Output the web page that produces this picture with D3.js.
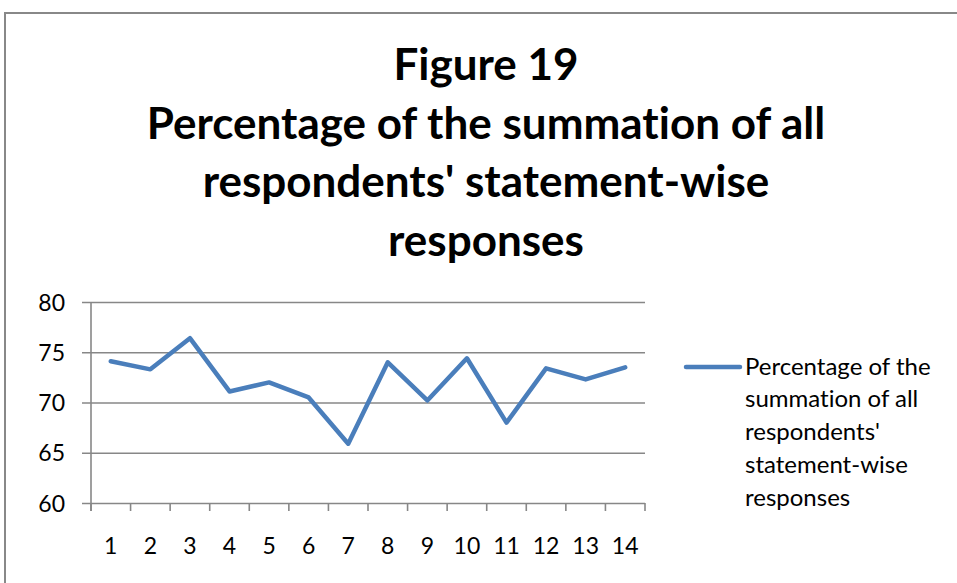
<!DOCTYPE html>
<html>
<head>
<meta charset="utf-8">
<script src="https://cdn.jsdelivr.net/npm/d3@7"></script>
<style>
  html, body { margin: 0; padding: 0; background: #fff; }
  svg { display: block; }
  text { font-family: Lato, "Open Sans", sans-serif; fill: #000; font-variant-ligatures: none; }
</style>
</head>
<body>
<div id="chart"></div>
<script>
// statement numbers on the x axis
const statements = ['1', '2', '3', '4', '5', '6', '7', '8', '9', '10', '11', '12', '13', '14'];
// percentage of the summation of all respondents' responses, per statement
const percentages = [74.1, 73.3, 76.4, 71.1, 72.0, 70.5, 65.9, 74.0, 70.2, 74.4, 68.0, 73.4, 72.3, 73.5];
const yTicks = [60, 65, 70, 75, 80];
const titleLines = ['Figure 19', 'Percentage of the summation of all', "respondents' statement-wise", 'responses'];
const legendLines = ['Percentage of the', 'summation of all', "respondents'", 'statement-wise', 'responses'];

const width = 957, height = 583;
const plot = { left: 91, right: 645, top: 302, bottom: 503 };
const lineColor = '#4a7ebb';
const gridColor = '#878787';

const svg = d3.select('#chart').append('svg')
  .attr('width', width)
  .attr('height', height);

// outer chart frame (runs off the right and bottom edges)
svg.append('rect')
  .attr('x', 5).attr('y', 13)
  .attr('width', 1000).attr('height', 700)
  .attr('fill', '#fff')
  .attr('stroke', '#888')
  .attr('stroke-width', 2);

// title
svg.append('g')
  .selectAll('text')
  .data(titleLines)
  .enter()
  .append('text')
  .attr('x', 486)
  .attr('y', (d, i) => 80 + i * 58.5)
  .attr('text-anchor', 'middle')
  .style('font-weight', 'bold')
  .style('font-size', '44px')
  .text(d => d);

const x = d3.scaleBand()
  .domain(statements)
  .range([plot.left, plot.right])
  .padding(0);

const y = d3.scaleLinear()
  .domain([60, 80])
  .range([plot.bottom, plot.top]);

// horizontal gridlines + left tick marks
const yAxis = d3.axisLeft(y)
  .tickValues(yTicks)
  .tickSize(-(plot.right - plot.left))
  .tickSizeOuter(0);

const gy = svg.append('g')
  .attr('transform', `translate(${plot.left},0)`)
  .call(yAxis);
gy.select('.domain').remove();
gy.selectAll('.tick line')
  .attr('x1', -9)
  .attr('stroke', gridColor)
  .attr('stroke-width', 1.6);
gy.selectAll('.tick text')
  .style('font-size', '23px')
  .attr('x', -26)
  .attr('dy', '0.35em');

// y axis line
svg.append('line')
  .attr('x1', plot.left).attr('x2', plot.left)
  .attr('y1', plot.top).attr('y2', plot.bottom + 8)
  .attr('stroke', gridColor)
  .attr('stroke-width', 1.6);

// category tick marks at band boundaries
const boundaries = statements.map(d => x(d)).concat([plot.right]);
svg.append('g')
  .selectAll('line')
  .data(boundaries)
  .enter()
  .append('line')
  .attr('x1', d => d).attr('x2', d => d)
  .attr('y1', plot.bottom).attr('y2', plot.bottom + 8)
  .attr('stroke', gridColor)
  .attr('stroke-width', 1.6);

// x axis labels
const xAxis = d3.axisBottom(x).tickSize(0).tickPadding(0);
const gx = svg.append('g')
  .attr('transform', `translate(0,${plot.bottom})`)
  .call(xAxis);
gx.select('.domain').remove();
gx.selectAll('.tick text')
  .style('font-size', '23px')
  .attr('y', 43)
  .attr('dy', '0.35em');

// data line
const line = d3.line()
  .x((d, i) => x(statements[i]) + x.bandwidth() / 2)
  .y(d => y(d));

svg.append('path')
  .datum(percentages)
  .attr('d', line)
  .attr('fill', 'none')
  .attr('stroke', lineColor)
  .attr('stroke-width', 4.5)
  .attr('stroke-linejoin', 'round')
  .attr('stroke-linecap', 'round');

// legend
const legend = svg.append('g').attr('transform', 'translate(686,367)');
legend.append('line')
  .attr('x1', 0).attr('x2', 54)
  .attr('y1', 0).attr('y2', 0)
  .attr('stroke', lineColor)
  .attr('stroke-width', 4.5)
  .attr('stroke-linecap', 'round');
legend.selectAll('text')
  .data(legendLines)
  .enter()
  .append('text')
  .attr('x', 59)
  .attr('y', (d, i) => i * 32.8)
  .attr('dy', '0.32em')
  .style('font-size', '24px')
  .text(d => d);
</script>
</body>
</html>
